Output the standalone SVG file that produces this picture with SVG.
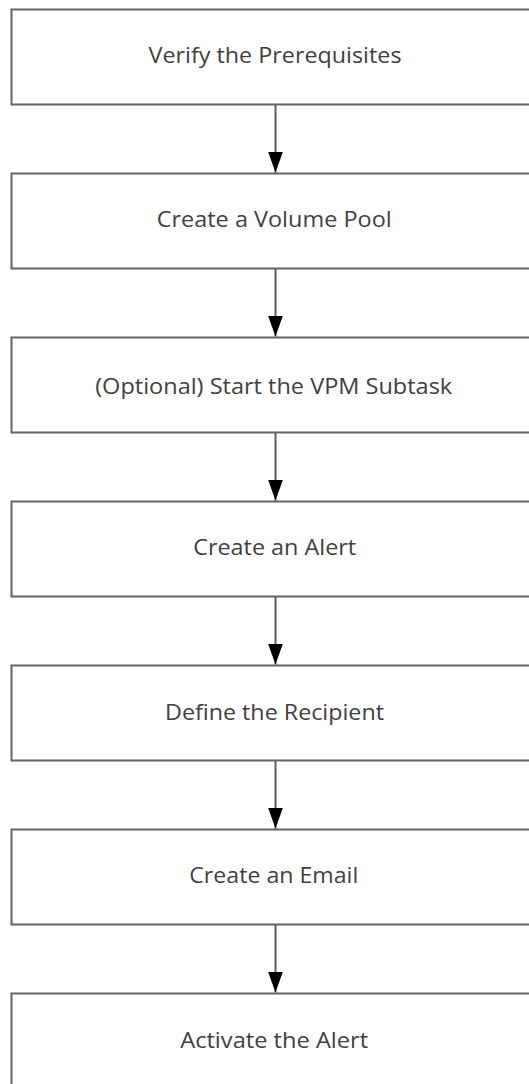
<svg xmlns="http://www.w3.org/2000/svg" width="529" height="1084" viewBox="0 0 529 1084">
<style>
.box{fill:#fff;stroke:#636363;stroke-width:2}
.lbl{font-family:"Open Sans",sans-serif;font-size:21px;fill:#404040;text-anchor:middle}
.conn{stroke:#5a5a5a;stroke-width:2;fill:none}
</style>
<defs>
<marker id="ah" markerWidth="21" markerHeight="15" refX="21" refY="7.5" orient="auto" markerUnits="userSpaceOnUse" viewBox="0 0 21 15">
<path d="M0,0 L21,7.5 L0,15 Z" fill="#000"/>
</marker>
</defs>
<rect width="529" height="1084" fill="#fff"/>
<g id="connectors">
<line class="conn" x1="275.5" y1="104.5" x2="275.5" y2="172.5" marker-end="url(#ah)"/>
<line class="conn" x1="275.5" y1="268.5" x2="275.5" y2="336.5" marker-end="url(#ah)"/>
<line class="conn" x1="275.5" y1="432.5" x2="275.5" y2="500.5" marker-end="url(#ah)"/>
<line class="conn" x1="275.5" y1="596.5" x2="275.5" y2="664.5" marker-end="url(#ah)"/>
<line class="conn" x1="275.5" y1="760.5" x2="275.5" y2="828.5" marker-end="url(#ah)"/>
<line class="conn" x1="275.5" y1="924.5" x2="275.5" y2="992.5" marker-end="url(#ah)"/>
</g>
<g id="n1"><rect class="box" x="11.5" y="9.5" width="530" height="95"/><text class="lbl" x="275" y="62.7" textLength="253" lengthAdjust="spacingAndGlyphs">Verify the Prerequisites</text></g>
<g id="n2"><rect class="box" x="11.5" y="173.5" width="530" height="95"/><text class="lbl" x="274.2" y="227.3" textLength="235" lengthAdjust="spacingAndGlyphs">Create a Volume Pool</text></g>
<g id="n3"><rect class="box" x="11.5" y="337.5" width="530" height="95"/><text class="lbl" x="273.7" y="393.5" textLength="357" lengthAdjust="spacingAndGlyphs">(Optional) Start the VPM Subtask</text></g>
<g id="n4"><rect class="box" x="11.5" y="501.5" width="530" height="95"/><text class="lbl" x="274.7" y="554.5" textLength="163" lengthAdjust="spacingAndGlyphs">Create an Alert</text></g>
<g id="n5"><rect class="box" x="11.5" y="665.5" width="530" height="95"/><text class="lbl" x="274.5" y="720" textLength="219" lengthAdjust="spacingAndGlyphs">Define the Recipient</text></g>
<g id="n6"><rect class="box" x="11.5" y="829.5" width="530" height="95"/><text class="lbl" x="273.8" y="883.3" textLength="169" lengthAdjust="spacingAndGlyphs">Create an Email</text></g>
<g id="n7"><rect class="box" x="11.5" y="993.5" width="530" height="95"/><text class="lbl" x="274.2" y="1048" textLength="188" lengthAdjust="spacingAndGlyphs">Activate the Alert</text></g>
</svg>
